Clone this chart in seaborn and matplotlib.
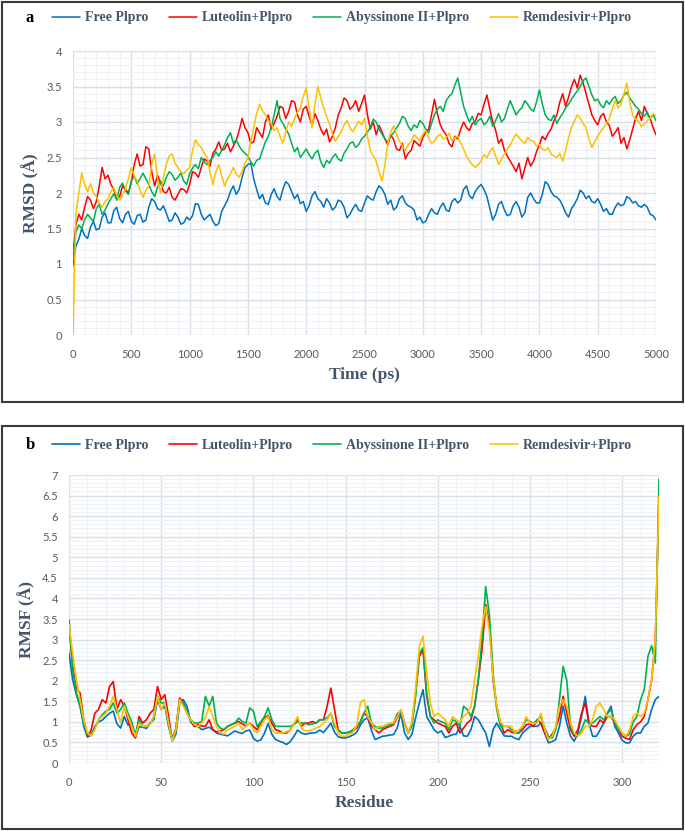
import matplotlib
matplotlib.use("Agg")
import numpy as np
import pandas as pd
import seaborn as sns
import matplotlib.pyplot as plt
from matplotlib.ticker import MultipleLocator, FuncFormatter
from matplotlib.patches import Rectangle

# ---------------- data ----------------
series_names = ["Free Plpro", "Luteolin+Plpro", "Abyssinone II+Plpro", "Remdesivir+Plpro"]
series_colors = ["#0070C0", "#FF0000", "#00B050", "#FFC000"]

time_ps = list(range(0, 5001, 25))

rmsd_free = [
    0.98, 1.25, 1.35, 1.50, 1.40, 1.36, 1.52, 1.60, 1.48, 1.50, 1.66, 1.72, 1.58, 1.58, 1.75, 1.80, 1.64, 1.58, 1.70, 1.74,
    1.60, 1.56, 1.68, 1.70, 1.59, 1.62, 1.80, 1.92, 1.88, 1.78, 1.76, 1.82, 1.72, 1.60, 1.62, 1.72, 1.66, 1.56, 1.58, 1.66,
    1.62, 1.68, 1.85, 1.84, 1.70, 1.62, 1.66, 1.70, 1.60, 1.54, 1.57, 1.74, 1.82, 1.90, 2.02, 2.10, 1.98, 2.05, 2.22, 2.36,
    2.40, 2.42, 2.20, 2.05, 1.92, 1.98, 1.86, 1.84, 1.98, 2.06, 1.95, 1.90, 2.05, 2.16, 2.12, 2.02, 1.92, 1.98, 1.85, 1.88,
    1.74, 1.82, 1.96, 2.02, 1.92, 1.88, 1.80, 1.92, 1.86, 1.76, 1.80, 1.90, 1.88, 1.80, 1.65, 1.70, 1.78, 1.84, 1.76, 1.74,
    1.86, 1.96, 1.92, 1.90, 2.02, 2.10, 2.06, 1.98, 1.84, 1.90, 1.76, 1.80, 1.92, 1.96, 1.86, 1.82, 1.80, 1.76, 1.62, 1.66,
    1.58, 1.60, 1.70, 1.78, 1.72, 1.70, 1.80, 1.86, 1.76, 1.74, 1.88, 1.92, 1.86, 1.90, 2.05, 2.10, 1.96, 1.92, 2.02, 2.08,
    2.12, 2.05, 1.95, 1.78, 1.62, 1.70, 1.84, 1.88, 1.76, 1.68, 1.70, 1.82, 1.88, 1.80, 1.66, 1.72, 1.94, 2.00, 1.92, 1.86,
    1.86, 1.98, 2.16, 2.12, 2.02, 1.96, 1.94, 1.90, 1.82, 1.72, 1.66, 1.78, 1.84, 1.92, 2.04, 2.00, 1.92, 1.96, 1.88, 1.86,
    1.92, 1.84, 1.74, 1.78, 1.70, 1.70, 1.80, 1.86, 1.82, 1.84, 1.95, 1.92, 1.86, 1.88, 1.82, 1.80, 1.84, 1.80, 1.70, 1.68,
    1.62]
rmsd_luteolin = [
    1.15, 1.55, 1.70, 1.62, 1.80, 1.95, 1.90, 1.78, 1.88, 2.10, 2.36, 2.20, 2.25, 2.12, 2.05, 1.92, 1.95, 2.10, 2.05, 2.00,
    2.15, 2.40, 2.55, 2.38, 2.40, 2.65, 2.62, 2.30, 2.10, 2.25, 2.15, 2.02, 2.00, 2.08, 1.94, 1.90, 1.98, 2.06, 2.05, 2.00,
    2.12, 2.30, 2.28, 2.22, 2.36, 2.48, 2.45, 2.38, 2.56, 2.62, 2.72, 2.60, 2.62, 2.70, 2.58, 2.66, 2.74, 2.88, 3.05, 2.92,
    2.85, 2.70, 2.72, 2.92, 2.85, 2.78, 3.00, 3.10, 2.90, 2.98, 3.08, 3.22, 3.20, 3.05, 3.15, 3.30, 3.28, 3.10, 3.00, 3.18,
    3.22, 3.08, 2.95, 3.12, 3.02, 2.90, 2.82, 2.90, 2.72, 2.80, 2.92, 3.10, 3.20, 3.34, 3.30, 3.18, 3.22, 3.30, 3.15, 3.26,
    3.38, 3.10, 2.90, 3.00, 2.82, 2.95, 2.86, 2.76, 2.68, 2.82, 2.75, 2.62, 2.60, 2.70, 2.48, 2.56, 2.60, 2.74, 2.70, 2.66,
    2.78, 2.86, 2.90, 3.10, 3.32, 3.12, 2.96, 2.88, 2.82, 2.70, 2.65, 2.80, 2.76, 2.90, 3.00, 2.92, 2.88, 2.98, 3.01, 3.12,
    3.10, 3.25, 3.38, 3.18, 3.00, 2.88, 2.70, 2.76, 2.60, 2.52, 2.45, 2.38, 2.30, 2.42, 2.20, 2.35, 2.50, 2.38, 2.45, 2.58,
    2.68, 2.80, 2.75, 2.84, 2.90, 3.02, 3.10, 3.28, 3.40, 3.22, 3.35, 3.50, 3.60, 3.48, 3.66, 3.55, 3.40, 3.25, 3.10, 3.02,
    2.96, 3.08, 3.12, 3.00, 2.95, 2.80, 2.85, 2.92, 2.70, 2.78, 2.62, 2.75, 2.90, 3.05, 3.15, 3.02, 3.22, 3.12, 3.05, 2.92,
    2.82]
rmsd_abyssinone = [
    1.10, 1.45, 1.55, 1.50, 1.62, 1.70, 1.65, 1.60, 1.78, 1.84, 1.70, 1.76, 1.85, 1.92, 1.99, 1.90, 2.08, 2.14, 2.03, 1.98,
    2.17, 2.24, 2.13, 2.20, 2.28, 2.20, 2.12, 2.02, 1.95, 2.08, 2.17, 2.10, 2.22, 2.30, 2.26, 2.18, 2.22, 2.28, 2.17, 2.12,
    2.27, 2.35, 2.40, 2.34, 2.50, 2.44, 2.40, 2.46, 2.50, 2.58, 2.52, 2.60, 2.68, 2.78, 2.85, 2.70, 2.75, 2.66, 2.60, 2.56,
    2.52, 2.44, 2.38, 2.46, 2.48, 2.60, 2.72, 2.80, 2.92, 3.10, 3.30, 3.05, 2.98, 2.90, 2.83, 2.70, 2.58, 2.64, 2.50, 2.56,
    2.62, 2.54, 2.48, 2.56, 2.60, 2.44, 2.36, 2.46, 2.42, 2.50, 2.55, 2.48, 2.45, 2.56, 2.62, 2.70, 2.72, 2.64, 2.68, 2.76,
    2.80, 2.86, 2.92, 3.04, 3.00, 2.90, 2.83, 2.76, 2.72, 2.80, 2.85, 2.92, 2.98, 3.08, 3.05, 2.94, 2.88, 2.96, 2.92, 3.02,
    2.98, 2.90, 2.85, 2.98, 3.10, 3.18, 3.22, 3.15, 3.30, 3.36, 3.40, 3.52, 3.62, 3.42, 3.22, 3.10, 3.00, 3.08, 2.96, 3.02,
    3.05, 2.96, 3.00, 3.08, 2.94, 3.02, 3.12, 3.00, 3.05, 3.18, 3.30, 3.20, 3.10, 3.16, 3.20, 3.30, 3.25, 3.18, 3.15, 3.28,
    3.45, 3.25, 3.10, 3.04, 3.02, 3.10, 2.98, 3.06, 3.12, 3.20, 3.25, 3.32, 3.38, 3.44, 3.50, 3.58, 3.62, 3.50, 3.38, 3.30,
    3.32, 3.24, 3.20, 3.30, 3.25, 3.32, 3.36, 3.26, 3.30, 3.38, 3.42, 3.34, 3.28, 3.22, 3.18, 3.12, 3.08, 3.14, 3.05, 3.10,
    3.02]
rmsd_remdesivir = [
    0.00, 1.70, 2.00, 2.28, 2.12, 2.02, 2.13, 2.00, 1.95, 1.86, 1.80, 1.88, 1.92, 2.02, 2.08, 1.96, 1.90, 1.98, 2.06, 2.20,
    2.36, 2.24, 2.17, 2.04, 1.94, 2.04, 2.10, 2.40, 2.55, 2.20, 2.00, 2.22, 2.40, 2.52, 2.55, 2.42, 2.36, 2.30, 2.27, 2.32,
    2.36, 2.60, 2.75, 2.68, 2.64, 2.56, 2.50, 2.30, 2.12, 2.30, 2.40, 2.24, 2.10, 2.20, 2.27, 2.36, 2.27, 2.22, 2.31, 2.42,
    2.50, 2.72, 2.92, 3.12, 3.25, 3.16, 3.10, 3.02, 2.98, 2.88, 2.92, 2.80, 2.70, 2.86, 3.00, 2.94, 3.05, 3.14, 3.20, 3.36,
    3.48, 3.20, 2.92, 3.25, 3.50, 3.34, 3.20, 3.08, 2.97, 2.84, 2.73, 2.80, 2.86, 2.96, 3.02, 2.92, 2.86, 2.94, 3.01, 2.96,
    3.05, 2.80, 2.60, 2.52, 2.45, 2.30, 2.17, 2.40, 2.70, 2.86, 2.95, 2.82, 2.73, 2.66, 2.60, 2.68, 2.73, 2.82, 2.78, 2.74,
    2.83, 2.88, 2.78, 2.70, 2.73, 2.80, 2.83, 2.76, 2.78, 2.84, 2.73, 2.78, 2.80, 2.70, 2.62, 2.52, 2.45, 2.40, 2.36, 2.40,
    2.45, 2.54, 2.50, 2.58, 2.64, 2.52, 2.40, 2.48, 2.55, 2.62, 2.68, 2.76, 2.83, 2.78, 2.73, 2.70, 2.78, 2.74, 2.73, 2.66,
    2.68, 2.62, 2.60, 2.64, 2.55, 2.52, 2.50, 2.56, 2.45, 2.60, 2.78, 2.92, 3.01, 3.10, 3.05, 2.98, 2.92, 2.76, 2.64, 2.72,
    2.80, 2.86, 2.92, 2.98, 3.05, 3.18, 3.30, 3.20, 3.25, 3.40, 3.55, 3.28, 3.10, 3.04, 3.01, 2.94, 2.97, 3.02, 3.05, 3.12,
    3.08]

residues = list(range(0, 321, 2))

rmsf_free = [2.67, 2.02, 1.66, 1.38, 0.89, 0.63, 0.68, 0.88, 1.00, 1.04, 1.13, 1.21, 1.26, 0.95, 0.85, 1.13,
             0.92, 0.95, 0.62, 0.88, 0.87, 0.84, 0.97, 1.05, 1.54, 1.30, 1.38, 0.89, 0.53, 0.70, 1.46, 1.54,
             1.38, 1.00, 0.89, 0.89, 0.81, 0.84, 0.87, 0.81, 0.73, 0.70, 0.68, 0.66, 0.72, 0.78, 0.74, 0.72,
             0.78, 0.80, 0.60, 0.53, 0.56, 0.72, 0.96, 0.70, 0.57, 0.53, 0.50, 0.45, 0.52, 0.65, 0.80, 0.73,
             0.70, 0.72, 0.73, 0.74, 0.80, 0.74, 0.85, 0.97, 0.75, 0.64, 0.61, 0.61, 0.64, 0.68, 0.74, 0.92,
             1.05, 1.10, 0.80, 0.57, 0.61, 0.65, 0.66, 0.68, 0.69, 0.85, 1.21, 0.73, 0.57, 0.70, 1.10, 1.46,
             1.78, 1.13, 0.97, 0.81, 0.73, 0.78, 0.62, 0.65, 0.69, 0.70, 0.89, 0.66, 0.65, 0.81, 1.13, 1.05,
             0.89, 0.73, 0.40, 0.81, 0.97, 0.81, 0.66, 0.65, 0.65, 0.60, 0.57, 0.73, 0.81, 0.89, 0.89, 0.89,
             0.97, 0.73, 0.49, 0.52, 0.57, 0.89, 1.38, 0.97, 0.65, 0.53, 0.73, 1.13, 1.62, 0.97, 0.65, 0.65,
             0.80, 0.97, 1.21, 1.38, 0.89, 0.73, 0.55, 0.49, 0.49, 0.65, 0.73, 0.73, 0.89, 0.97, 1.30, 1.54,
             1.62]
rmsf_luteolin = [3.36, 2.35, 1.82, 1.70, 1.05, 0.65, 0.80, 1.21, 1.30, 1.54, 1.46, 1.86, 1.98, 1.30, 1.54, 1.38,
                 1.05, 0.73, 0.61, 1.13, 0.97, 1.05, 1.21, 1.30, 1.86, 1.54, 1.66, 1.13, 0.57, 0.85, 1.58, 1.46,
                 1.21, 1.05, 0.89, 0.93, 0.90, 0.89, 1.05, 0.81, 0.75, 0.78, 0.81, 0.89, 0.93, 0.97, 1.01, 0.95,
                 0.90, 0.97, 0.89, 0.81, 0.97, 1.10, 1.15, 0.97, 0.81, 0.78, 0.73, 0.73, 0.81, 0.95, 1.05, 0.89,
                 0.97, 0.97, 1.01, 0.97, 1.05, 1.05, 1.38, 1.82, 1.30, 0.80, 0.73, 0.73, 0.75, 0.77, 0.85, 1.00,
                 1.21, 1.13, 0.90, 0.81, 0.73, 0.81, 0.85, 0.89, 0.93, 1.10, 1.28, 0.97, 0.73, 0.97, 1.70, 2.59,
                 2.75, 1.62, 1.13, 1.05, 0.97, 0.93, 0.89, 0.73, 0.89, 0.97, 0.73, 0.85, 0.97, 1.05, 1.38, 2.02,
                 2.75, 3.85, 3.40, 2.02, 1.38, 0.97, 0.73, 0.81, 0.75, 0.73, 0.73, 0.81, 0.93, 0.95, 0.89, 1.05,
                 0.97, 0.73, 0.57, 0.70, 0.85, 1.13, 1.62, 1.21, 0.81, 0.65, 0.81, 1.21, 1.46, 0.97, 0.89, 0.89,
                 1.05, 0.97, 1.13, 1.13, 0.97, 0.81, 0.65, 0.60, 0.57, 0.81, 0.93, 1.00, 1.13, 1.54, 2.02, 3.00,
                 6.44]
rmsf_abyssinone = [3.48, 2.27, 1.70, 1.38, 0.97, 0.69, 0.70, 0.85, 1.05, 1.17, 1.26, 1.30, 1.46, 1.21, 1.30, 1.46,
                   1.21, 1.00, 0.69, 1.05, 0.89, 0.89, 0.95, 1.13, 1.62, 1.46, 1.46, 0.97, 0.57, 0.81, 1.54, 1.46,
                   1.26, 1.05, 0.97, 0.97, 1.01, 1.62, 1.38, 1.62, 0.97, 0.85, 0.81, 0.89, 0.93, 0.97, 1.09, 1.01,
                   0.97, 1.34, 1.26, 0.89, 1.00, 1.13, 1.34, 1.05, 0.89, 0.89, 0.89, 0.89, 0.89, 0.93, 1.01, 0.97,
                   0.97, 0.93, 0.95, 0.97, 1.05, 1.05, 1.10, 1.21, 0.89, 0.80, 0.73, 0.73, 0.75, 0.81, 0.89, 1.00,
                   1.21, 1.38, 0.97, 0.89, 0.85, 0.85, 0.89, 0.93, 0.97, 1.20, 1.26, 0.97, 0.73, 0.89, 1.62, 2.67,
                   2.80, 1.70, 1.13, 0.97, 1.05, 1.00, 0.97, 0.81, 1.05, 1.01, 0.89, 1.38, 1.30, 1.13, 1.38, 2.02,
                   3.00, 4.29, 3.60, 2.20, 1.30, 0.89, 0.89, 0.89, 0.81, 0.77, 0.73, 0.89, 1.05, 1.01, 0.97, 1.05,
                   1.13, 0.85, 0.65, 0.60, 0.81, 1.54, 2.35, 2.00, 0.89, 0.70, 0.65, 0.81, 1.05, 0.97, 0.97, 1.05,
                   1.13, 1.05, 1.20, 1.30, 0.97, 0.81, 0.73, 0.65, 0.70, 1.00, 1.13, 1.54, 1.78, 2.59, 2.85, 2.43,
                   6.90]
rmsf_remdesivir = [3.36, 2.67, 2.02, 1.54, 1.05, 0.73, 0.65, 0.81, 1.05, 1.13, 1.21, 1.38, 1.62, 1.30, 0.97, 1.38,
                   1.13, 0.89, 0.65, 0.97, 0.89, 0.89, 0.93, 1.13, 1.62, 1.30, 1.46, 0.97, 0.53, 0.81, 1.54, 1.38,
                   1.21, 1.05, 0.93, 0.89, 0.97, 1.10, 1.38, 1.13, 0.89, 0.73, 0.70, 0.81, 0.85, 0.89, 0.97, 0.81,
                   0.89, 0.97, 0.81, 0.73, 0.89, 1.05, 1.13, 0.81, 0.73, 0.73, 0.73, 0.76, 0.80, 0.95, 1.13, 0.85,
                   0.78, 0.78, 0.81, 0.85, 0.89, 0.97, 1.05, 1.21, 0.97, 0.73, 0.65, 0.65, 0.70, 0.75, 0.90, 1.46,
                   1.54, 1.13, 0.97, 0.81, 0.89, 0.89, 0.93, 0.97, 0.97, 1.13, 1.30, 0.97, 0.73, 1.00, 1.80, 2.83,
                   3.08, 2.20, 1.46, 1.13, 1.21, 1.13, 1.05, 0.89, 1.13, 1.05, 1.00, 1.13, 1.21, 1.38, 2.00, 2.59,
                   3.32, 3.80, 3.20, 2.10, 1.38, 1.00, 0.89, 0.89, 0.89, 0.73, 0.81, 0.89, 1.13, 0.97, 0.97, 0.97,
                   1.21, 0.81, 0.57, 0.65, 0.89, 1.38, 1.54, 1.38, 0.97, 0.73, 0.65, 0.73, 0.89, 0.89, 1.05, 1.38,
                   1.46, 1.30, 1.13, 1.13, 1.05, 0.89, 0.73, 0.65, 0.81, 1.13, 1.21, 1.13, 1.21, 1.54, 2.02, 3.00,
                   6.48]

rmsd_x_ticks = [0, 500, 1000, 1500, 2000, 2500, 3000, 3500, 4000, 4500, 5000]
rmsf_x_ticks = [0, 50, 100, 150, 200, 250, 300]

# ---------------- frames ----------------
df_rmsd = pd.concat([
    pd.DataFrame({"Time": time_ps, "RMSD": vals, "Series": name})
    for name, vals in zip(series_names, [rmsd_free, rmsd_luteolin, rmsd_abyssinone, rmsd_remdesivir])
], ignore_index=True)
df_rmsf = pd.concat([
    pd.DataFrame({"Residue": residues, "RMSF": vals, "Series": name})
    for name, vals in zip(series_names, [rmsf_free, rmsf_luteolin, rmsf_abyssinone, rmsf_remdesivir])
], ignore_index=True)

sns.set_theme(style="white")
plt.rcParams["font.family"] = ["Lato", "DejaVu Sans"]

W, H = 685, 831
fig = plt.figure(figsize=(W / 100, H / 100), dpi=100)

SERIF = "Liberation Serif"
LABEL_COLOR = "#44546A"
TICK_COLOR = "#595959"
palette = dict(zip(series_names, series_colors))


def px_axes(left, top, right, bottom):
    return fig.add_axes([left / W, 1 - bottom / H, (right - left) / W, (bottom - top) / H])


def style_axes(ax, xmaj, xmin, ymaj, ymin):
    ax.xaxis.set_major_locator(MultipleLocator(xmaj))
    ax.xaxis.set_minor_locator(MultipleLocator(xmin))
    ax.yaxis.set_major_locator(MultipleLocator(ymaj))
    ax.yaxis.set_minor_locator(MultipleLocator(ymin))
    ax.yaxis.set_major_formatter(FuncFormatter(lambda v, p: f"{v:g}"))
    ax.grid(which="minor", color="#EEF1F5", linewidth=0.8)
    ax.grid(which="major", color="#D9DFE8", linewidth=1.0)
    ax.set_axisbelow(True)
    for s in ax.spines.values():
        s.set_visible(False)
    ax.tick_params(which="both", length=0, labelsize=8, colors=TICK_COLOR)
    ax.tick_params(axis="x", pad=10)
    ax.tick_params(axis="y", pad=8)


def add_frame(top, bottom):
    fig.patches.append(Rectangle((1.5 / W, 1 - bottom / H), (W - 3.5) / W, (bottom - top) / H,
                                 transform=fig.transFigure, fill=False, edgecolor="#3A3A3A",
                                 linewidth=1.5))


def add_legend(ax, yc, letter):
    handles = ax.get_lines()[:4]
    fig.legend(handles, series_names, loc="center left", bbox_to_anchor=(52 / W, 1 - yc / H),
               ncol=4, frameon=False, handlelength=2.0, handletextpad=0.35, columnspacing=1.5,
               borderpad=0, borderaxespad=0,
               prop={"family": SERIF, "weight": "bold", "size": 10}, labelcolor=LABEL_COLOR)
    fig.text(30 / W, 1 - yc / H, letter, family=SERIF, weight="bold", size=12, color="black",
             ha="center", va="center")


# ---- panel a ----
add_frame(1.5, 402)
ax1 = px_axes(73, 51, 656, 335)
sns.lineplot(data=df_rmsd, x="Time", y="RMSD", hue="Series", hue_order=series_names,
             palette=palette, linewidth=1.1, estimator=None, legend=False, ax=ax1)
ax1.set_xlim(0, 5000)
ax1.set_ylim(0, 4)
style_axes(ax1, 500, 100, 0.5, 0.1)
ax1.set_xticks(rmsd_x_ticks)
ax1.set_xlabel("Time (ps)", family=SERIF, weight="bold", size=12.5, color=LABEL_COLOR, labelpad=5)
ax1.set_ylabel("RMSD (Å)", family=SERIF, weight="bold", size=12.5, color=LABEL_COLOR, labelpad=5)
add_legend(ax1, 18, "a")

# ---- panel b ----
add_frame(426, 829)
ax2 = px_axes(69, 475, 659, 763)
sns.lineplot(data=df_rmsf, x="Residue", y="RMSF", hue="Series", hue_order=series_names,
             palette=palette, linewidth=1.2, estimator=None, legend=False, ax=ax2)
ax2.set_xlim(0, 320)
ax2.set_ylim(0, 7)
style_axes(ax2, 50, 10, 0.5, 0.1)
ax2.set_xticks(rmsf_x_ticks)
ax2.set_xlabel("Residue", family=SERIF, weight="bold", size=12.5, color=LABEL_COLOR, labelpad=5)
ax2.set_ylabel("RMSF (Å)", family=SERIF, weight="bold", size=12.5, color=LABEL_COLOR, labelpad=5)
add_legend(ax2, 445, "b")

fig.savefig("out.png", dpi=100)
